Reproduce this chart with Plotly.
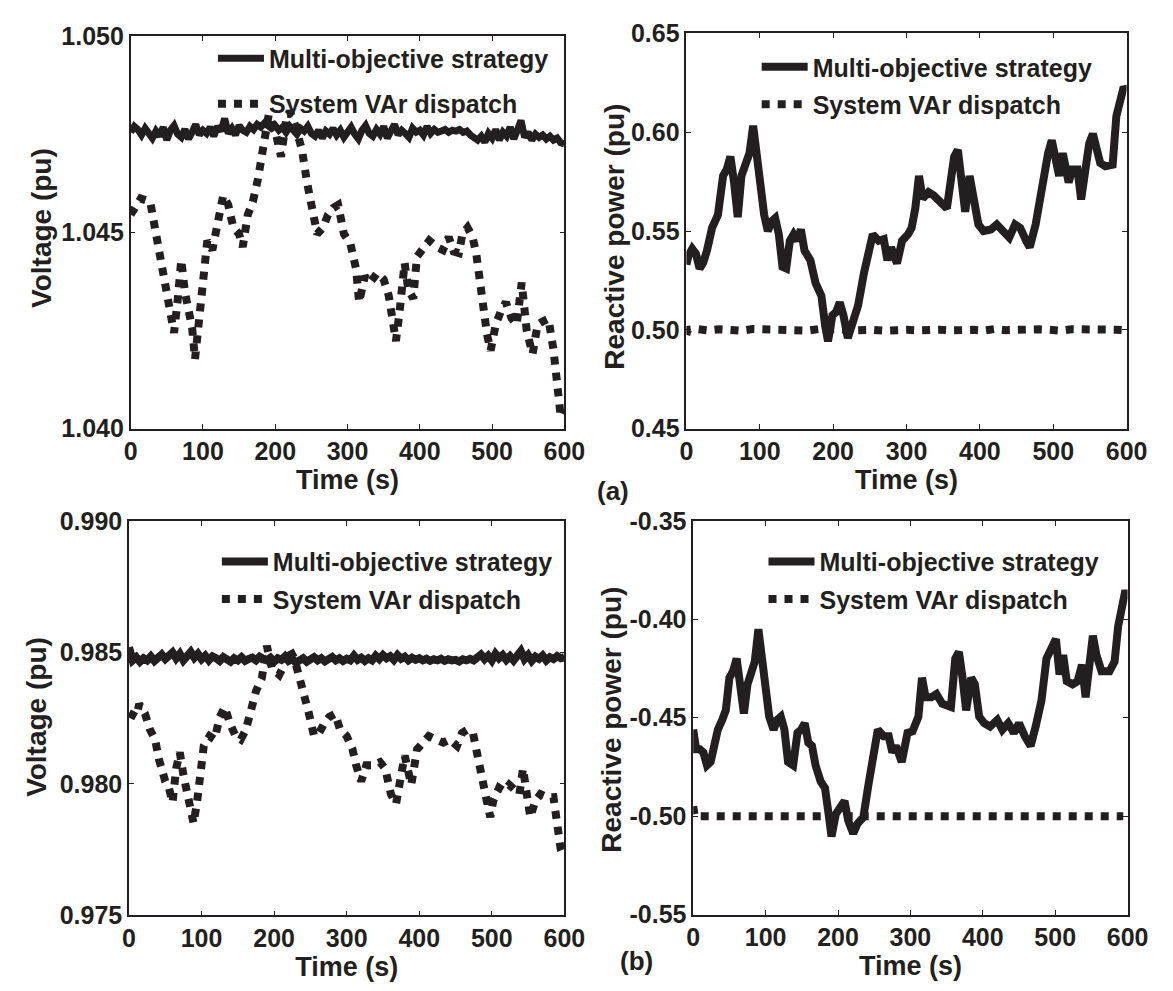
import plotly.graph_objects as go

# ---------------- data ----------------
t_grid = list(range(0, 601, 5))

# (a) left: bus voltage, multi-objective strategy (noisy, nearly flat)
v_a_multi = [
    1.04755, 1.04770, 1.04762, 1.04748, 1.04765, 1.04752, 1.04740, 1.04758, 1.04745, 1.04768,
    1.04735, 1.04760, 1.04772, 1.04750, 1.04742, 1.04763, 1.04738, 1.04755, 1.04775, 1.04748,
    1.04760, 1.04752, 1.04768, 1.04745, 1.04770, 1.04758, 1.04790, 1.04752, 1.04765, 1.04748,
    1.04772, 1.04760, 1.04755, 1.04770, 1.04762, 1.04775, 1.04768, 1.04778, 1.04770, 1.04765,
    1.04772, 1.04760, 1.04768, 1.04755, 1.04770, 1.04762, 1.04750, 1.04765, 1.04758, 1.04770,
    1.04752, 1.04745, 1.04760, 1.04740, 1.04758, 1.04750, 1.04765, 1.04748, 1.04760, 1.04742,
    1.04755, 1.04768, 1.04750, 1.04738, 1.04760, 1.04772, 1.04752, 1.04745, 1.04762, 1.04750,
    1.04770, 1.04740, 1.04758, 1.04775, 1.04748, 1.04760, 1.04752, 1.04742, 1.04765, 1.04755,
    1.04760, 1.04748, 1.04770, 1.04752, 1.04762, 1.04755, 1.04758, 1.04762, 1.04755, 1.04760,
    1.04758, 1.04762, 1.04755, 1.04758, 1.04748, 1.04740, 1.04735, 1.04745, 1.04730, 1.04752,
    1.04740, 1.04762, 1.04735, 1.04755, 1.04745, 1.04768, 1.04738, 1.04760, 1.04785, 1.04742,
    1.04755, 1.04735, 1.04750, 1.04742, 1.04748, 1.04738, 1.04745, 1.04735, 1.04740, 1.04728,
    1.04725,
]

# (a) left: bus voltage, system VAr dispatch
t_a_sys = [0, 14, 27, 36, 46, 56, 60, 65, 70, 75, 80, 85, 89, 94, 99, 106, 113, 121, 128, 135,
           142, 150, 155, 162, 169, 176, 184, 191, 200, 208, 215, 220, 227, 237, 244, 251, 258,
           266, 273, 280, 287, 295, 304, 312, 316, 324, 331, 341, 350, 357, 362, 367, 372, 379,
           384, 391, 396, 403, 413, 423, 432, 440, 447, 454, 459, 466, 473, 478, 483, 488, 493,
           498, 505, 512, 519, 527, 534, 541, 548, 556, 563, 570, 578, 585, 590, 595, 600]
v_a_sys = [1.04545, 1.04586, 1.04578, 1.04479, 1.04396, 1.04281, 1.04244, 1.04327, 1.04430,
           1.04348, 1.04298, 1.04257, 1.04177, 1.04273, 1.04373, 1.04479, 1.04455, 1.04520,
           1.04594, 1.04570, 1.04512, 1.04496, 1.04463, 1.04545, 1.04578, 1.04635, 1.04710,
           1.04800, 1.04759, 1.04693, 1.04784, 1.04809, 1.04776, 1.04710, 1.04627, 1.04553,
           1.04496, 1.04512, 1.04545, 1.04562, 1.04570, 1.04496, 1.04471, 1.04405, 1.04322,
           1.04388, 1.04372, 1.04396, 1.04380, 1.04339, 1.04265, 1.04223, 1.04298, 1.04422,
           1.04355, 1.04331, 1.04438, 1.04455, 1.04479, 1.04463, 1.04455, 1.04488, 1.04451,
           1.04447, 1.04496, 1.04512, 1.04488, 1.04447, 1.04364, 1.04290, 1.04240, 1.04199,
           1.04265, 1.04298, 1.04322, 1.04281, 1.04265, 1.04372, 1.04248, 1.04190, 1.04265,
           1.04273, 1.04280, 1.04200, 1.04100, 1.04030, 1.04050]

# (a) right: reactive power, multi-objective strategy
t_a_q = [0, 3, 8, 13, 18, 23, 28, 35, 43, 50, 55, 60, 65, 70, 75, 81, 86, 91, 96, 101, 106, 111,
         116, 121, 126, 131, 136, 141, 146, 151, 156, 161, 169, 176, 184, 189, 193, 199, 204,
         209, 214, 220, 226, 234, 242, 249, 254, 262, 269, 274, 279, 287, 294, 302, 307, 312,
         317, 322, 330, 337, 345, 355, 360, 365, 370, 375, 380, 386, 393, 398, 405, 415, 423,
         430, 440, 448, 455, 463, 468, 476, 483, 488, 493, 498, 503, 508, 513, 521, 526, 533,
         538, 544, 549, 554, 559, 564, 571, 581, 586, 591, 596, 599]
q_a_multi = [0.5330, 0.5377, 0.5410, 0.5385, 0.5310, 0.5340, 0.5401, 0.5516, 0.5582, 0.5779,
             0.5812, 0.5877, 0.5746, 0.5570, 0.5779, 0.5853, 0.5894, 0.6033, 0.5877, 0.5762,
             0.5582, 0.5500, 0.5549, 0.5565, 0.5483, 0.5319, 0.5311, 0.5451, 0.5483, 0.5451,
             0.5508, 0.5401, 0.5352, 0.5237, 0.5172, 0.5024, 0.4942, 0.5074, 0.5090, 0.5139,
             0.5074, 0.4959, 0.5024, 0.5123, 0.5287, 0.5418, 0.5483, 0.5451, 0.5459, 0.5352,
             0.5418, 0.5336, 0.5451, 0.5483, 0.5516, 0.5615, 0.5779, 0.5664, 0.5697, 0.5680,
             0.5648, 0.5615, 0.5746, 0.5877, 0.5910, 0.5746, 0.5598, 0.5779, 0.5631, 0.5533,
             0.5500, 0.5508, 0.5533, 0.5500, 0.5467, 0.5533, 0.5516, 0.5451, 0.5418, 0.5533,
             0.5680, 0.5812, 0.5894, 0.5959, 0.5861, 0.5779, 0.5894, 0.5746, 0.5812, 0.5812,
             0.5660, 0.5844, 0.5943, 0.5992, 0.5894, 0.5844, 0.5828, 0.5836, 0.6082, 0.6180,
             0.6229, 0.6213]

# (a) right: reactive power, system VAr dispatch (held at 0.50)
t_a_qs = [0, 2, 15, 30, 45, 60, 75, 90, 105, 120, 135, 150, 165, 180, 195, 210, 225, 240, 255,
          270, 285, 300, 315, 330, 345, 360, 375, 390, 405, 420, 435, 450, 465, 480, 495, 510,
          525, 540, 555, 570, 585, 600]
q_a_sys = [0.4975, 0.5000, 0.5004, 0.4997, 0.5003, 0.5000, 0.4996, 0.5004, 0.5001, 0.4997,
           0.5003, 0.5000, 0.4996, 0.5004, 0.4998, 0.5002, 0.4997, 0.5003, 0.5000, 0.4996,
           0.5003, 0.5000, 0.4997, 0.5004, 0.5001, 0.4997, 0.5003, 0.5000, 0.4996, 0.5004,
           0.4998, 0.5002, 0.4997, 0.5003, 0.5000, 0.4996, 0.5003, 0.5000, 0.4997, 0.5004,
           0.5001, 0.4998]

# (b) left: bus voltage, multi-objective strategy
v_b_multi = [
    0.98520, 0.98470, 0.98482, 0.98465, 0.98478, 0.98470, 0.98485, 0.98468, 0.98480, 0.98492,
    0.98475, 0.98488, 0.98500, 0.98478, 0.98495, 0.98470, 0.98488, 0.98502, 0.98480, 0.98495,
    0.98475, 0.98488, 0.98470, 0.98485, 0.98478, 0.98468, 0.98482, 0.98472, 0.98465, 0.98478,
    0.98470, 0.98482, 0.98468, 0.98475, 0.98480, 0.98470, 0.98484, 0.98476, 0.98470, 0.98480,
    0.98465, 0.98478, 0.98472, 0.98485, 0.98468, 0.98475, 0.98462, 0.98470, 0.98478, 0.98465,
    0.98472, 0.98482, 0.98470, 0.98478, 0.98466, 0.98475, 0.98483, 0.98470, 0.98478, 0.98468,
    0.98476, 0.98470, 0.98488, 0.98472, 0.98480, 0.98468, 0.98478, 0.98470, 0.98488, 0.98475,
    0.98490, 0.98478, 0.98486, 0.98472, 0.98490, 0.98476, 0.98484, 0.98470, 0.98480, 0.98472,
    0.98478, 0.98470, 0.98476, 0.98468, 0.98474, 0.98470, 0.98476, 0.98468, 0.98474, 0.98470,
    0.98472, 0.98466, 0.98474, 0.98470, 0.98476, 0.98470, 0.98480, 0.98492, 0.98475, 0.98488,
    0.98470, 0.98495, 0.98478, 0.98490, 0.98472, 0.98486, 0.98470, 0.98484, 0.98505, 0.98475,
    0.98490, 0.98468, 0.98484, 0.98476, 0.98488, 0.98470, 0.98482, 0.98475, 0.98486, 0.98478,
    0.98482,
]

# (b) left: bus voltage, system VAr dispatch
t_b_sys = [0, 2, 10, 14, 22, 29, 36, 41, 46, 50, 55, 60, 65, 70, 75, 79, 84, 89, 94, 99, 103,
           111, 118, 125, 132, 139, 147, 154, 161, 168, 175, 183, 190, 197, 207, 214, 221, 228,
           236, 243, 248, 255, 262, 269, 276, 284, 291, 300, 308, 313, 320, 327, 337, 346, 353,
           361, 368, 375, 380, 385, 389, 397, 404, 413, 423, 433, 442, 452, 459, 466, 474, 478,
           483, 488, 493, 498, 502, 510, 517, 524, 531, 538, 543, 548, 553, 560, 567, 577, 585,
           590, 595, 600]
v_b_sys = [0.98270, 0.98267, 0.98255, 0.98304, 0.98267, 0.98206, 0.98169, 0.98096, 0.98046,
           0.98010, 0.97985, 0.97930, 0.98059, 0.98120, 0.98034, 0.97985, 0.97936, 0.97850,
           0.97936, 0.98059, 0.98145, 0.98182, 0.98169, 0.98255, 0.98292, 0.98230, 0.98182,
           0.98169, 0.98206, 0.98279, 0.98353, 0.98402, 0.98525, 0.98439, 0.98415, 0.98452,
           0.98513, 0.98476, 0.98402, 0.98329, 0.98267, 0.98182, 0.98194, 0.98230, 0.98255,
           0.98267, 0.98206, 0.98182, 0.98132, 0.98071, 0.98010, 0.98071, 0.98071, 0.98083,
           0.98059, 0.97961, 0.97924, 0.98034, 0.98108, 0.98046, 0.97997, 0.98132, 0.98157,
           0.98182, 0.98169, 0.98157, 0.98169, 0.98145, 0.98194, 0.98206, 0.98194, 0.98132,
           0.98059, 0.97985, 0.97936, 0.97874, 0.97936, 0.97985, 0.97973, 0.97997, 0.97973,
           0.97961, 0.98059, 0.97936, 0.97874, 0.97936, 0.97961, 0.97949, 0.97950, 0.97850,
           0.97750, 0.97720]

# (b) right: reactive power, multi-objective strategy
t_b_q = [0, 2, 4, 9, 14, 19, 24, 29, 34, 40, 45, 50, 55, 60, 65, 70, 75, 80, 85, 90, 95, 100,
         105, 111, 116, 121, 126, 131, 138, 144, 149, 154, 159, 164, 169, 176, 182, 187, 191,
         197, 202, 209, 214, 221, 227, 235, 242, 250, 255, 263, 270, 275, 280, 288, 296, 303,
         311, 316, 321, 329, 336, 344, 351, 356, 362, 367, 372, 377, 384, 389, 395, 402, 410,
         420, 427, 435, 443, 450, 458, 466, 473, 481, 488, 496, 501, 506, 511, 516, 524, 531,
         537, 542, 547, 552, 557, 564, 575, 582, 587, 592, 597, 599]
q_b_multi = [-0.4560, -0.4594, -0.4660, -0.4660, -0.4676, -0.4742, -0.4725, -0.4643, -0.4561,
             -0.4511, -0.4462, -0.4297, -0.4264, -0.4199, -0.4330, -0.4478, -0.4330, -0.4264,
             -0.4215, -0.4050, -0.4182, -0.4330, -0.4495, -0.4561, -0.4511, -0.4495, -0.4561,
             -0.4725, -0.4742, -0.4577, -0.4561, -0.4528, -0.4627, -0.4643, -0.4742, -0.4824,
             -0.4857, -0.4989, -0.5104, -0.4989, -0.4956, -0.4923, -0.5022, -0.5088, -0.5038,
             -0.5005, -0.4841, -0.4676, -0.4561, -0.4594, -0.4594, -0.4676, -0.4643, -0.4725,
             -0.4577, -0.4569, -0.4495, -0.4297, -0.4396, -0.4396, -0.4380, -0.4429, -0.4437,
             -0.4445, -0.4199, -0.4166, -0.4297, -0.4462, -0.4297, -0.4330, -0.4495, -0.4528,
             -0.4545, -0.4511, -0.4561, -0.4528, -0.4577, -0.4528, -0.4594, -0.4643, -0.4545,
             -0.4413, -0.4199, -0.4133, -0.4100, -0.4281, -0.4182, -0.4314, -0.4330, -0.4314,
             -0.4231, -0.4396, -0.4199, -0.4083, -0.4182, -0.4264, -0.4264, -0.4215, -0.4034,
             -0.3918, -0.3853, -0.3886]

# (b) right: reactive power, system VAr dispatch (held at -0.50)
t_b_qs = [0, 2, 15, 30, 45, 60, 75, 90, 105, 120, 135, 150, 165, 180, 195, 210, 225, 240, 255,
          270, 285, 300, 315, 330, 345, 360, 375, 390, 405, 420, 435, 450, 465, 480, 495, 510,
          525, 540, 555, 570, 585, 594]
q_b_sys = [-0.4950, -0.5000, -0.5000, -0.5001, -0.5000, -0.4999, -0.5000, -0.5001, -0.5000,
           -0.5000, -0.4999, -0.5000, -0.5001, -0.5000, -0.5000, -0.4999, -0.5000, -0.5001,
           -0.5000, -0.5000, -0.4999, -0.5000, -0.5001, -0.5000, -0.5000, -0.4999, -0.5000,
           -0.5001, -0.5000, -0.5000, -0.4999, -0.5000, -0.5001, -0.5000, -0.5000, -0.4999,
           -0.5000, -0.5001, -0.5000, -0.5000, -0.4999, -0.5000]

name_multi = "Multi-objective strategy"
name_sys = "System VAr dispatch"
x_ticks = [0, 100, 200, 300, 400, 500, 600]
y_ticks_a_v = [1.040, 1.045, 1.050]
y_text_a_v = ["1.040", "1.045", "1.050"]
y_ticks_a_q = [0.45, 0.50, 0.55, 0.60, 0.65]
y_text_a_q = ["0.45", "0.50", "0.55", "0.60", "0.65"]
y_ticks_b_v = [0.975, 0.980, 0.985, 0.990]
y_text_b_v = ["0.975", "0.980", "0.985", "0.990"]
y_ticks_b_q = [-0.55, -0.50, -0.45, -0.40, -0.35]
y_text_b_q = ["-0.55", "-0.50", "-0.45", "-0.40", "-0.35"]
x_title = "Time (s)"
y_titles = ["Voltage (pu)", "Reactive power (pu)", "Voltage (pu)", "Reactive power (pu)"]

# ---------------- style ----------------
INK = "#231f20"
FONT = "Liberation Sans, Arial, sans-serif"
W, H = 1173, 991


def px_x(a, b):
    return [a / W, b / W]


def px_y(top, bottom):
    return [(H - bottom) / H, (H - top) / H]


fig = go.Figure()

panels = [
    ("x", "y", "legend", (t_grid, v_a_multi, 7), (t_a_sys, v_a_sys)),
    ("x2", "y2", "legend2", (t_a_q, q_a_multi, 8), (t_a_qs, q_a_sys)),
    ("x3", "y3", "legend3", (t_grid, v_b_multi, 8), (t_b_sys, v_b_sys)),
    ("x4", "y4", "legend4", (t_b_q, q_b_multi, 8), (t_b_qs, q_b_sys)),
]

for xa, ya, lg, solid, dashed in panels:
    fig.add_trace(go.Scatter(
        x=solid[0], y=solid[1], mode="lines", name=name_multi,
        line=dict(color=INK, width=solid[2]),
        xaxis=xa, yaxis=ya, legend=lg, legendgroup=lg + "a",
    ))
    fig.add_trace(go.Scatter(
        x=dashed[0], y=dashed[1], mode="lines", name=name_sys,
        line=dict(color=INK, width=8, dash="8px,8px"),
        xaxis=xa, yaxis=ya, legend=lg, legendgroup=lg + "b",
    ))

axis_common = dict(
    showline=True, linecolor=INK, linewidth=1.5, mirror="ticks",
    ticks="inside", ticklen=5, tickwidth=1, tickcolor=INK,
    showgrid=False, zeroline=False,
    tickfont=dict(family=FONT, size=25, color=INK, weight="bold"),
    title_font=dict(family=FONT, size=27, color=INK, weight="bold"),
)

xdom = [px_x(126.7, 571), px_x(696, 1147), px_x(125, 571), px_x(703, 1148)]
ydom = [px_y(22.7, 426.7), px_y(20, 426.7), px_y(521.7, 927.7), px_y(521.7, 926.7)]
yranges = [[1.040, 1.050], [0.45, 0.65], [0.975, 0.990], [-0.55, -0.35]]
yticks = [(y_ticks_a_v, y_text_a_v), (y_ticks_a_q, y_text_a_q),
          (y_ticks_b_v, y_text_b_v), (y_ticks_b_q, y_text_b_q)]

layout = dict(
    width=W, height=H, paper_bgcolor="white", plot_bgcolor="white",
    margin=dict(l=0, r=0, t=0, b=0), showlegend=True,
)
for i in range(4):
    sx = "" if i == 0 else str(i + 1)
    layout["xaxis" + sx] = dict(
        axis_common, domain=xdom[i], range=[0, 600], tickvals=x_ticks,
        anchor="y" + sx, title=dict(text=x_title, standoff=0),
    )
    layout["yaxis" + sx] = dict(
        axis_common, domain=ydom[i], range=yranges[i],
        tickvals=yticks[i][0], ticktext=yticks[i][1], anchor="x" + sx,
    )

leg_pos = [(216, 22, 10), (773, 31, 2), (220, 540, 2), (780, 540, 2)]
for i, (lx, ly, gap) in enumerate(leg_pos):
    key = "legend" if i == 0 else "legend" + str(i + 1)
    layout[key] = dict(
        x=(lx - 5) / W, y=(H - ly) / H, xanchor="left", yanchor="top",
        bgcolor="rgba(0,0,0,0)", borderwidth=0, itemwidth=46,
        traceorder="grouped", tracegroupgap=gap,
        font=dict(family=FONT, size=25, color=INK, weight="bold"),
    )

# y-axis titles (rotated), centred where the reference shows them
ytitle_pos = [(36, 220), (622, 229), (30, 723), (619, 726)]
annotations = []
for (cx, cy), txt in zip(ytitle_pos, y_titles):
    annotations.append(dict(
        text=txt, x=cx / W, y=(H - cy) / H, xref="paper", yref="paper",
        showarrow=False, xanchor="center", yanchor="middle", textangle=-90,
        font=dict(family=FONT, size=28, color=INK, weight="bold"),
    ))
annotations += [
    dict(text="(a)", x=621 / W, y=(H - 491) / H, xref="paper", yref="paper",
         showarrow=False, xanchor="center", yanchor="middle",
         font=dict(family=FONT, size=26, color=INK, weight="bold")),
    dict(text="(b)", x=645 / W, y=(H - 975) / H, xref="paper", yref="paper",
         showarrow=False, xanchor="center", yanchor="middle",
         font=dict(family=FONT, size=26, color=INK, weight="bold")),
]
layout["annotations"] = annotations

fig.update_layout(layout)
fig.write_html(
    "out.html",
    config={"displayModeBar": False},
    post_script="document.body.style.margin='0';document.body.style.overflow='hidden';",
)
